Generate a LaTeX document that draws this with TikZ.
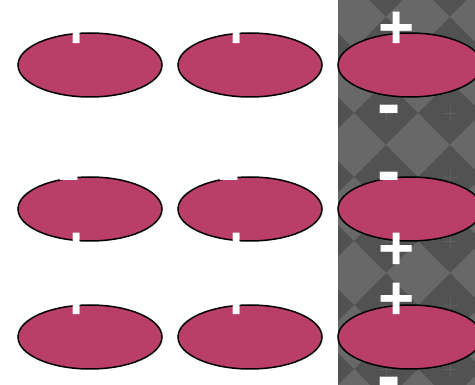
\documentclass[tikz,border=0pt]{standalone}
\usepackage{fontspec}
\setsansfont{Liberation Sans}
\usetikzlibrary{shapes.geometric,calc}
\definecolor{bead}{RGB}{185,62,104}
\definecolor{tileDark}{RGB}{82,82,82}
\definecolor{tileLight}{RGB}{104,104,104}
\definecolor{tileSpark}{RGB}{96,96,96}

\begin{document}
\begin{tikzpicture}[
		x=1pt,y=-1pt,
		oval/.style={draw=black,line width=1.5pt,fill=bead,ellipse,inner sep=0pt,minimum width=144pt,minimum height=64pt},
		plussign/.style={text=white,inner sep=0pt,anchor=base,font=\sffamily\bfseries\fontsize{62}{62}\selectfont},
		minussign/.style={text=white,inner sep=0pt,anchor=base,font=\sffamily\bfseries\fontsize{70}{70}\selectfont}
		]
		\useasboundingbox (0,0) rectangle (475,385);
		\clip (0,0) rectangle (475,385);
		% tiled band on the right
		\fill[tileDark] (338,0) rectangle (475,385);
		\begin{scope}
			\clip (338,0) rectangle (475,385);
			\foreach \i in {0,1,2} {
				\foreach \j in {0,...,6} {
					\fill[tileLight] ({354+64*\i-32},{17+64*\j}) -- ++(32,-32) -- ++(32,32) -- ++(-32,32) -- cycle;
					\draw[tileSpark,line width=0.6pt] ({386+64*\i-7},{49+64*\j-64}) -- ++(14,0)
						({386+64*\i},{49+64*\j-71}) -- ++(0,14);
				}
			}
		\end{scope}

		\foreach \col/\cx in {a/90,b/250,c/410} {
			\node[oval] (\col1) at (\cx,65) {};
			\node[oval] (\col2) at (\cx,209) {};
			\node[oval] (\col3) at (\cx,337) {};
			% signs above and below each oval
			\node[plussign] (\col1p) at ($(\cx,27)+(-13,0.35*62)$) {+};
			\node[minussign] (\col1m) at ($(\cx,110)+(-21,0.255*70)$) {-};
			\node[minussign] (\col2m) at ($(\cx,177)+(-21,0.255*70)$) {-};
			\node[plussign] (\col2p) at ($(\cx,248)+(-13,0.35*62)$) {+};
			\node[plussign] (\col3p) at ($(\cx,298)+(-13,0.35*62)$) {+};
			\node[minussign] (\col3m) at ($(\cx,382)+(-21,0.255*70)$) {-};
		}
	\end{tikzpicture}
\end{document}
